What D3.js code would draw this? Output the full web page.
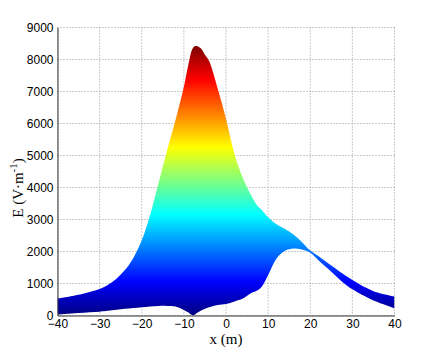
<!DOCTYPE html>
<html>
<head>
<meta charset="utf-8">
<script src="https://cdnjs.cloudflare.com/ajax/libs/d3/7.8.5/d3.min.js"></script>
<style>
  body { margin: 0; background: #fff; }
</style>
</head>
<body>
<div class="canvas"></div>
<script>
const svgWidth = 436;
const svgHeight = 355;

const xs = [-40, -35, -30, -28, -26, -24, -22, -20, -18, -16, -14, -12, -10, -9, -7.8, -7, -6, -5, -4, -2,
    0, 2, 4, 6, 7.5, 8.5, 10, 12, 14, 16, 18, 20, 22, 25, 28, 30, 33, 35, 37, 40];
// upper envelope of E (V/m)
const upper = [530, 650, 830, 960, 1150, 1420, 1800, 2350, 3150, 4150, 5150, 6100, 7150, 7800, 8370, 8420, 8350, 8150, 7950, 7100,
    6150, 5050, 4300, 3750, 3420, 3300, 3070, 2850, 2700, 2530, 2300, 2030, 1850, 1560, 1280, 1110, 880, 760, 680, 590];
// lower envelope of E (V/m)
const lower = [30, 80, 120, 145, 180, 210, 235, 260, 285, 300, 300, 280, 175, 100, 0, 70, 150, 210, 260, 330,
    360, 440, 530, 700, 790, 900, 1265, 1780, 2020, 2090, 2060, 1960, 1720, 1370, 1010, 820, 600, 470, 370, 225];

const xTicks = [-40, -30, -20, -10, 0, 10, 20, 30, 40];
const yTicks = [0, 1000, 2000, 3000, 4000, 5000, 6000, 7000, 8000, 9000];

const svg = d3.select('.canvas')
    .append('svg')
    .attr('width', svgWidth)
    .attr('height', svgHeight);

const margin = { top: 27.5, left: 57.5 };
const graphWidth = 337;
const graphHeight = 288;

const graph = svg.append('g')
    .attr('transform', `translate(${margin.left}, ${margin.top})`);

const x = d3.scaleLinear().domain([-40, 40]).range([0, graphWidth]);
const y = d3.scaleLinear().domain([0, 9000]).range([graphHeight, 0]);

// jet colormap like matlab
const clamp = v => Math.max(0, Math.min(1, v));
const jet = t => d3.rgb(
    255 * clamp(1.5 - Math.abs(4 * t - 3)),
    255 * clamp(1.5 - Math.abs(4 * t - 2)),
    255 * clamp(1.5 - Math.abs(4 * t - 1))
);

const cmax = d3.max(upper);
const defs = svg.append('defs');
const grad = defs.append('linearGradient')
    .attr('id', 'jet')
    .attr('gradientUnits', 'userSpaceOnUse')
    .attr('x1', 0).attr('x2', 0)
    .attr('y1', y(0)).attr('y2', y(cmax));
grad.selectAll('stop')
    .data(d3.range(0, 1.0001, 1 / 64))
    .enter().append('stop')
    .attr('offset', d => d)
    .attr('stop-color', d => jet(d));

defs.append('clipPath').attr('id', 'clip')
    .append('rect')
    .attr('width', graphWidth).attr('height', graphHeight);

// grid (dotted)
graph.append('g').selectAll('line')
    .data(xTicks)
    .enter().append('line')
    .attr('x1', d => x(d)).attr('x2', d => x(d))
    .attr('y1', 0).attr('y2', graphHeight)
    .attr('stroke', '#999').attr('stroke-dasharray', '1,2');
graph.append('g').selectAll('line')
    .data(yTicks)
    .enter().append('line')
    .attr('x1', 0).attr('x2', graphWidth)
    .attr('y1', d => y(d)).attr('y2', d => y(d))
    .attr('stroke', '#999').attr('stroke-dasharray', '1,2');

// filled band between the envelopes
const band = xs.map((d, i) => ({ x: d, hi: upper[i], lo: lower[i] }));
const area = d3.area()
    .x(d => x(d.x))
    .y0(d => y(d.lo))
    .y1(d => y(d.hi))
    .curve(d3.curveCatmullRom.alpha(0.5));

graph.append('path')
    .datum(band)
    .attr('d', area)
    .attr('clip-path', 'url(#clip)')
    .attr('fill', 'url(#jet)');

// axes
const xAxisGroup = graph.append('g')
    .attr('transform', `translate(0, ${graphHeight})`)
    .call(d3.axisBottom(x).tickValues(xTicks).tickSize(0).tickPadding(4).tickFormat(d3.format('d')));
const yAxisGroup = graph.append('g')
    .call(d3.axisLeft(y).tickValues(yTicks).tickSize(0).tickPadding(4).tickFormat(d3.format('d')));

[xAxisGroup, yAxisGroup].forEach(g => {
    g.attr('font-family', '"Liberation Sans", Arial, sans-serif').attr('font-size', 12);
    g.select('.domain').attr('stroke', '#333');
    g.selectAll('text').attr('fill', '#000');
});

// labels
svg.append('text')
    .attr('x', margin.left + graphWidth / 2)
    .attr('y', 344)
    .attr('text-anchor', 'middle')
    .attr('font-family', '"Liberation Serif", "Times New Roman", serif')
    .attr('font-size', 15)
    .text('x (m)');

const yLabel = svg.append('text')
    .attr('transform', 'translate(23, 188) rotate(-90)')
    .attr('text-anchor', 'middle')
    .attr('font-family', '"Liberation Serif", "Times New Roman", serif')
    .attr('font-size', 15);
yLabel.append('tspan').text('E (V\u00b7m');
yLabel.append('tspan').attr('dy', -6).attr('font-size', 11).text('-1');
yLabel.append('tspan').attr('dy', 6).text(')');
</script>
</body>
</html>
